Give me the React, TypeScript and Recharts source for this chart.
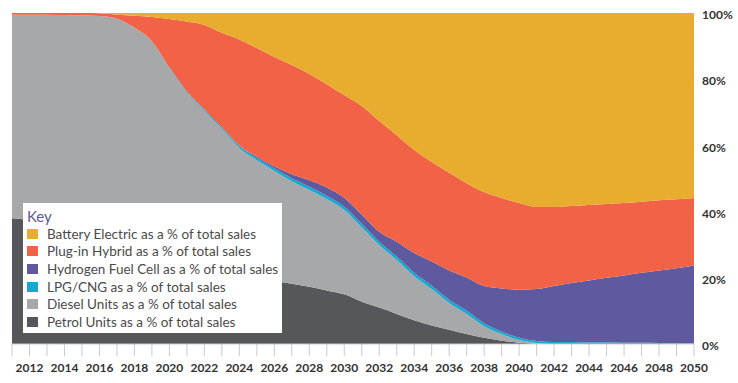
import { Area, AreaChart, Legend, XAxis, YAxis } from 'recharts';

const years = [
  2011, 2012, 2013, 2014, 2015, 2016, 2017, 2018, 2019, 2020,
  2021, 2022, 2023, 2024, 2025, 2026, 2027, 2028, 2029, 2030,
  2031, 2032, 2033, 2034, 2035, 2036, 2037, 2038, 2039, 2040,
  2041, 2042, 2043, 2044, 2045, 2046, 2047, 2048, 2049, 2050,
];

// % of total sales
const petrol = [
  38, 37.5, 37, 36, 35, 34, 32.5, 31, 29, 27,
  25, 23.5, 22, 21, 20, 19, 18.2, 17.3, 16.2, 15,
  12.8, 11, 9.1, 7.2, 5.6, 4.3, 3, 1.9, 1, 0.4,
  0.1, 0, 0, 0, 0, 0, 0, 0, 0, 0,
];
const diesel = [
  61.5, 62, 62.5, 63.4, 64.3, 65.1, 65.8, 64.6, 62.5, 56.4,
  51, 47, 43, 38.2, 35.5, 33.3, 31, 29.2, 27.6, 25.5,
  22.5, 18.9, 16.3, 13.3, 11, 8.1, 6.1, 3.5, 2, 0.8,
  0.2, 0, 0, 0, 0, 0, 0, 0, 0, 0,
];
const lpg = [
  0, 0, 0, 0, 0, 0, 0, 0, 0, 0.2,
  0.3, 0.4, 0.5, 0.6, 0.7, 0.8, 0.9, 1, 1, 1,
  1, 1, 1, 1, 1, 1, 1, 0.9, 0.8, 0.7,
  0.6, 0.6, 0.6, 0.5, 0.5, 0.4, 0.4, 0.3, 0.2, 0.15,
];
const hydrogen = [
  0, 0, 0, 0, 0, 0, 0, 0, 0, 0,
  0, 0, 0, 0.2, 0.4, 0.6, 1.2, 2, 2.5, 2.7,
  2.8, 3, 4.5, 6, 7.3, 8.8, 10, 11.2, 13, 14.5,
  15.7, 16.9, 17.8, 18.7, 19.5, 20.3, 21.1, 21.9, 22.7, 23.6,
];
const plugin = [
  0.5, 0.5, 0.5, 0.6, 0.7, 0.8, 1.2, 3.6, 7.3, 14.6,
  21.1, 25.5, 28.5, 32, 32.8, 33, 33, 32.1, 31.2, 31,
  32.8, 33.5, 32.2, 31.1, 30.1, 29.5, 28.5, 28.4, 27.3, 26.2,
  24.8, 23.9, 23.3, 22.8, 22.3, 21.9, 21.5, 21.2, 20.8, 20.35,
];
const battery = [
  0, 0, 0, 0, 0, 0.1, 0.5, 0.8, 1.2, 1.8,
  2.6, 3.6, 6, 8, 10.6, 13.3, 15.7, 18.4, 21.5, 24.8,
  28.1, 32.6, 36.9, 41.4, 45, 48.3, 51.4, 54.1, 55.9, 57.4,
  58.6, 58.6, 58.3, 58, 57.7, 57.4, 57, 56.6, 56.3, 55.9,
];

const yTicks = [0, 0.2, 0.4, 0.6, 0.8, 1];

// bottom of the stack first
const series = [
  { key: 'petrol', name: 'Petrol Units as a % of total sales', color: '#56575b', values: petrol },
  { key: 'diesel', name: 'Diesel Units as a % of total sales', color: '#a7a8aa', values: diesel },
  { key: 'lpg', name: 'LPG/CNG as a % of total sales', color: '#14a9d0', values: lpg },
  { key: 'hydrogen', name: 'Hydrogen Fuel Cell as a % of total sales', color: '#5f5a9f', values: hydrogen },
  { key: 'plugin', name: 'Plug-in Hybrid as a % of total sales', color: '#f16246', values: plugin },
  { key: 'battery', name: 'Battery Electric as a % of total sales', color: '#e8ac2e', values: battery },
];

const data = years.map((year, i) => {
  const row: Record<string, number> = { year };
  series.forEach((s) => {
    row[s.key] = s.values[i];
  });
  return row;
});

const axisFont = {
  fontFamily: 'Lato, "Open Sans", sans-serif',
  fontWeight: 700,
  fontSize: 12,
  fill: '#333',
};

function KeyBox() {
  return (
    <div
      style={{
        background: '#fff',
        width: 259,
        height: 130,
        boxSizing: 'border-box',
        padding: '4px 0 0 4px',
        fontFamily: 'Lato, "Open Sans", sans-serif',
        color: '#4a4a4a',
      }}
    >
      <div style={{ color: '#5c57a0', fontSize: 15, lineHeight: '18px' }}>Key</div>
      {[...series].reverse().map((s) => (
        <div
          key={s.key}
          style={{ display: 'flex', alignItems: 'center', height: 17.6, fontSize: 13.5 }}
        >
          <span
            style={{
              display: 'inline-block',
              width: 11,
              height: 10,
              background: s.color,
              marginRight: 9,
            }}
          />
          <span style={{ whiteSpace: 'nowrap' }}>{s.name}</span>
        </div>
      ))}
    </div>
  );
}

export default function App() {
  return (
    <div style={{ position: 'absolute', left: 0, top: 0 }}>
      <AreaChart
        width={738}
        height={383}
        data={data}
        stackOffset="expand"
        margin={{ top: 13, right: 0, bottom: 0, left: 12 }}
      >
        <XAxis
          dataKey="year"
          type="number"
          domain={[2011, 2050]}
          ticks={years}
          interval={0}
          height={39}
          tickSize={12}
          tickMargin={7}
          axisLine={{ stroke: '#c9c9c9' }}
          tickLine={{ stroke: '#c9c9c9' }}
          tick={axisFont}
          tickFormatter={(v) => (v % 2 === 0 ? String(v) : '')}
        />
        <YAxis
          orientation="right"
          width={44}
          domain={[0, 1]}
          ticks={yTicks}
          axisLine={false}
          tickLine={false}
          tickSize={0}
          tickMargin={8}
          tick={{ ...axisFont, dy: 2 }}
          tickFormatter={(v) => `${Math.round(v * 100)}%`}
        />
        {series.map((s) => (
          <Area
            key={s.key}
            type="monotone"
            dataKey={s.key}
            name={s.name}
            stackId="1"
            stroke="none"
            fill={s.color}
            fillOpacity={1}
            isAnimationActive={false}
          />
        ))}
        <Legend
          layout="vertical"
          align="center"
          verticalAlign="middle"
          wrapperStyle={{ left: 23, top: 203, width: 259 }}
          content={() => <KeyBox />}
        />
      </AreaChart>
    </div>
  );
}
